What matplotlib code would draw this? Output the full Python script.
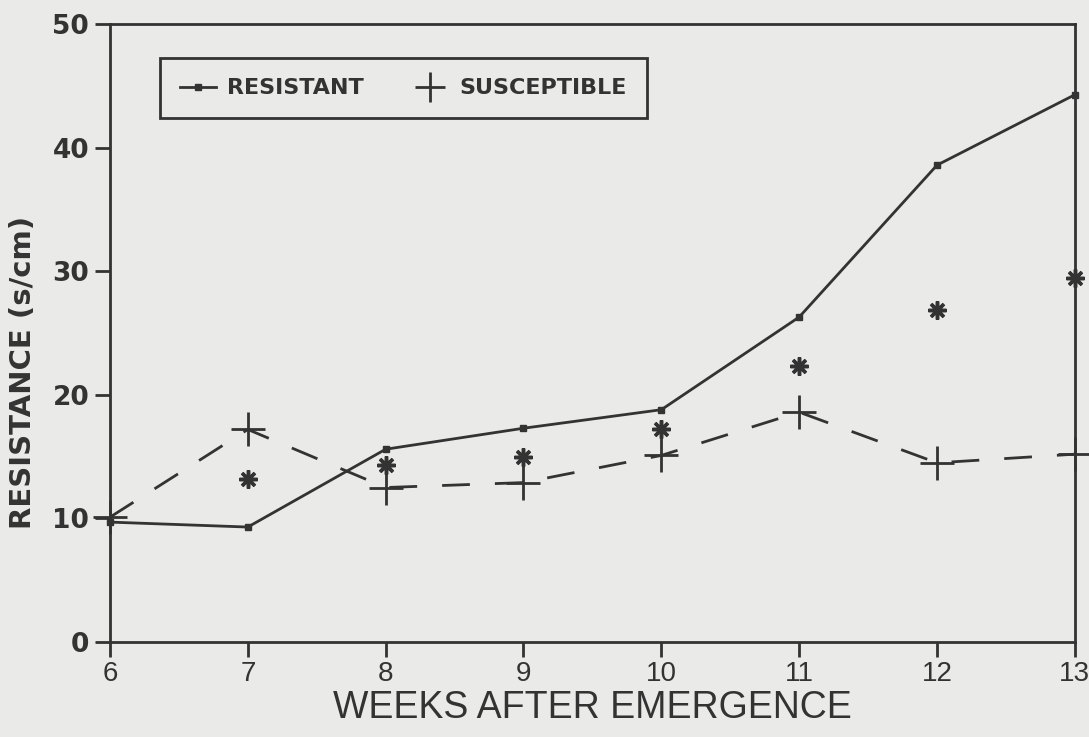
import matplotlib.pyplot as plt

weeks = [6, 7, 8, 9, 10, 11, 12, 13]
resistant = [9.7, 9.3, 15.6, 17.3, 18.8, 26.3, 38.6, 44.3]
susceptible = [10.1, 17.2, 12.5, 12.9, 15.1, 18.6, 14.5, 15.2]
star_weeks = [7, 8, 9, 10, 11, 12, 13]
star_vals = [13.2, 14.3, 15.0, 17.2, 22.3, 26.9, 29.5]

ink = '#333333'
bg = '#eaeae8'
narrow = ['Liberation Sans', 'DejaVu Sans']

fig = plt.figure(figsize=(10.89, 7.37), dpi=100, facecolor=bg)
ax = fig.add_axes([0.101, 0.129, 0.886, 0.838], facecolor=bg)

ax.plot(weeks, resistant, color=ink, linestyle='-', linewidth=2,
        marker='s', markersize=5, label='RESISTANT', clip_on=False, zorder=3)
ax.plot(weeks, susceptible, color=ink, linestyle=(0, (10, 9)), linewidth=2,
        marker='+', markersize=24, markeredgewidth=2, label='SUSCEPTIBLE',
        clip_on=False, zorder=3)
ax.plot(star_weeks, star_vals, linestyle='none', marker=(8, 2, 0), markersize=13,
        markeredgewidth=2.5, color=ink, clip_on=False, zorder=3)

ax.set_xlim(6, 13)
ax.set_ylim(0, 50)
ax.set_xticks(weeks)
ax.set_yticks([0, 10, 20, 30, 40, 50])

for s in ax.spines.values():
    s.set_color(ink)
    s.set_linewidth(2)
ax.tick_params(axis='both', colors=ink, direction='out', length=11, width=2)
ax.tick_params(axis='y', labelsize=19, pad=4)
ax.tick_params(axis='x', labelsize=20, pad=3)
for lbl in ax.get_yticklabels():
    lbl.set_fontweight('bold')
for lbl in ax.get_xticklabels():
    lbl.set_fontfamily(narrow)

ax.set_xlabel('WEEKS AFTER EMERGENCE', fontsize=27, color=ink,
              family=narrow, labelpad=2)
ax.set_ylabel('RESISTANCE (s/cm)', fontsize=21, fontweight='bold', color=ink)
ax.yaxis.set_label_coords(-0.076, 0.437)

leg = ax.legend(loc='upper left', bbox_to_anchor=(0.052, 0.945), ncol=2,
                borderaxespad=0, frameon=True, fancybox=False,
                handlelength=1.6, columnspacing=2.2, borderpad=0.9,
                handletextpad=0.5, prop={'weight': 'bold', 'size': 16})
leg.get_frame().set_edgecolor(ink)
leg.get_frame().set_linewidth(2)
leg.get_frame().set_facecolor(bg)
leg.get_frame().set_alpha(1)
for t in leg.get_texts():
    t.set_color(ink)
leg.legend_handles[1].set_linestyle('none')
leg.legend_handles[1].set_markersize(22)

fig.savefig('out.png', dpi=100, facecolor=bg)
